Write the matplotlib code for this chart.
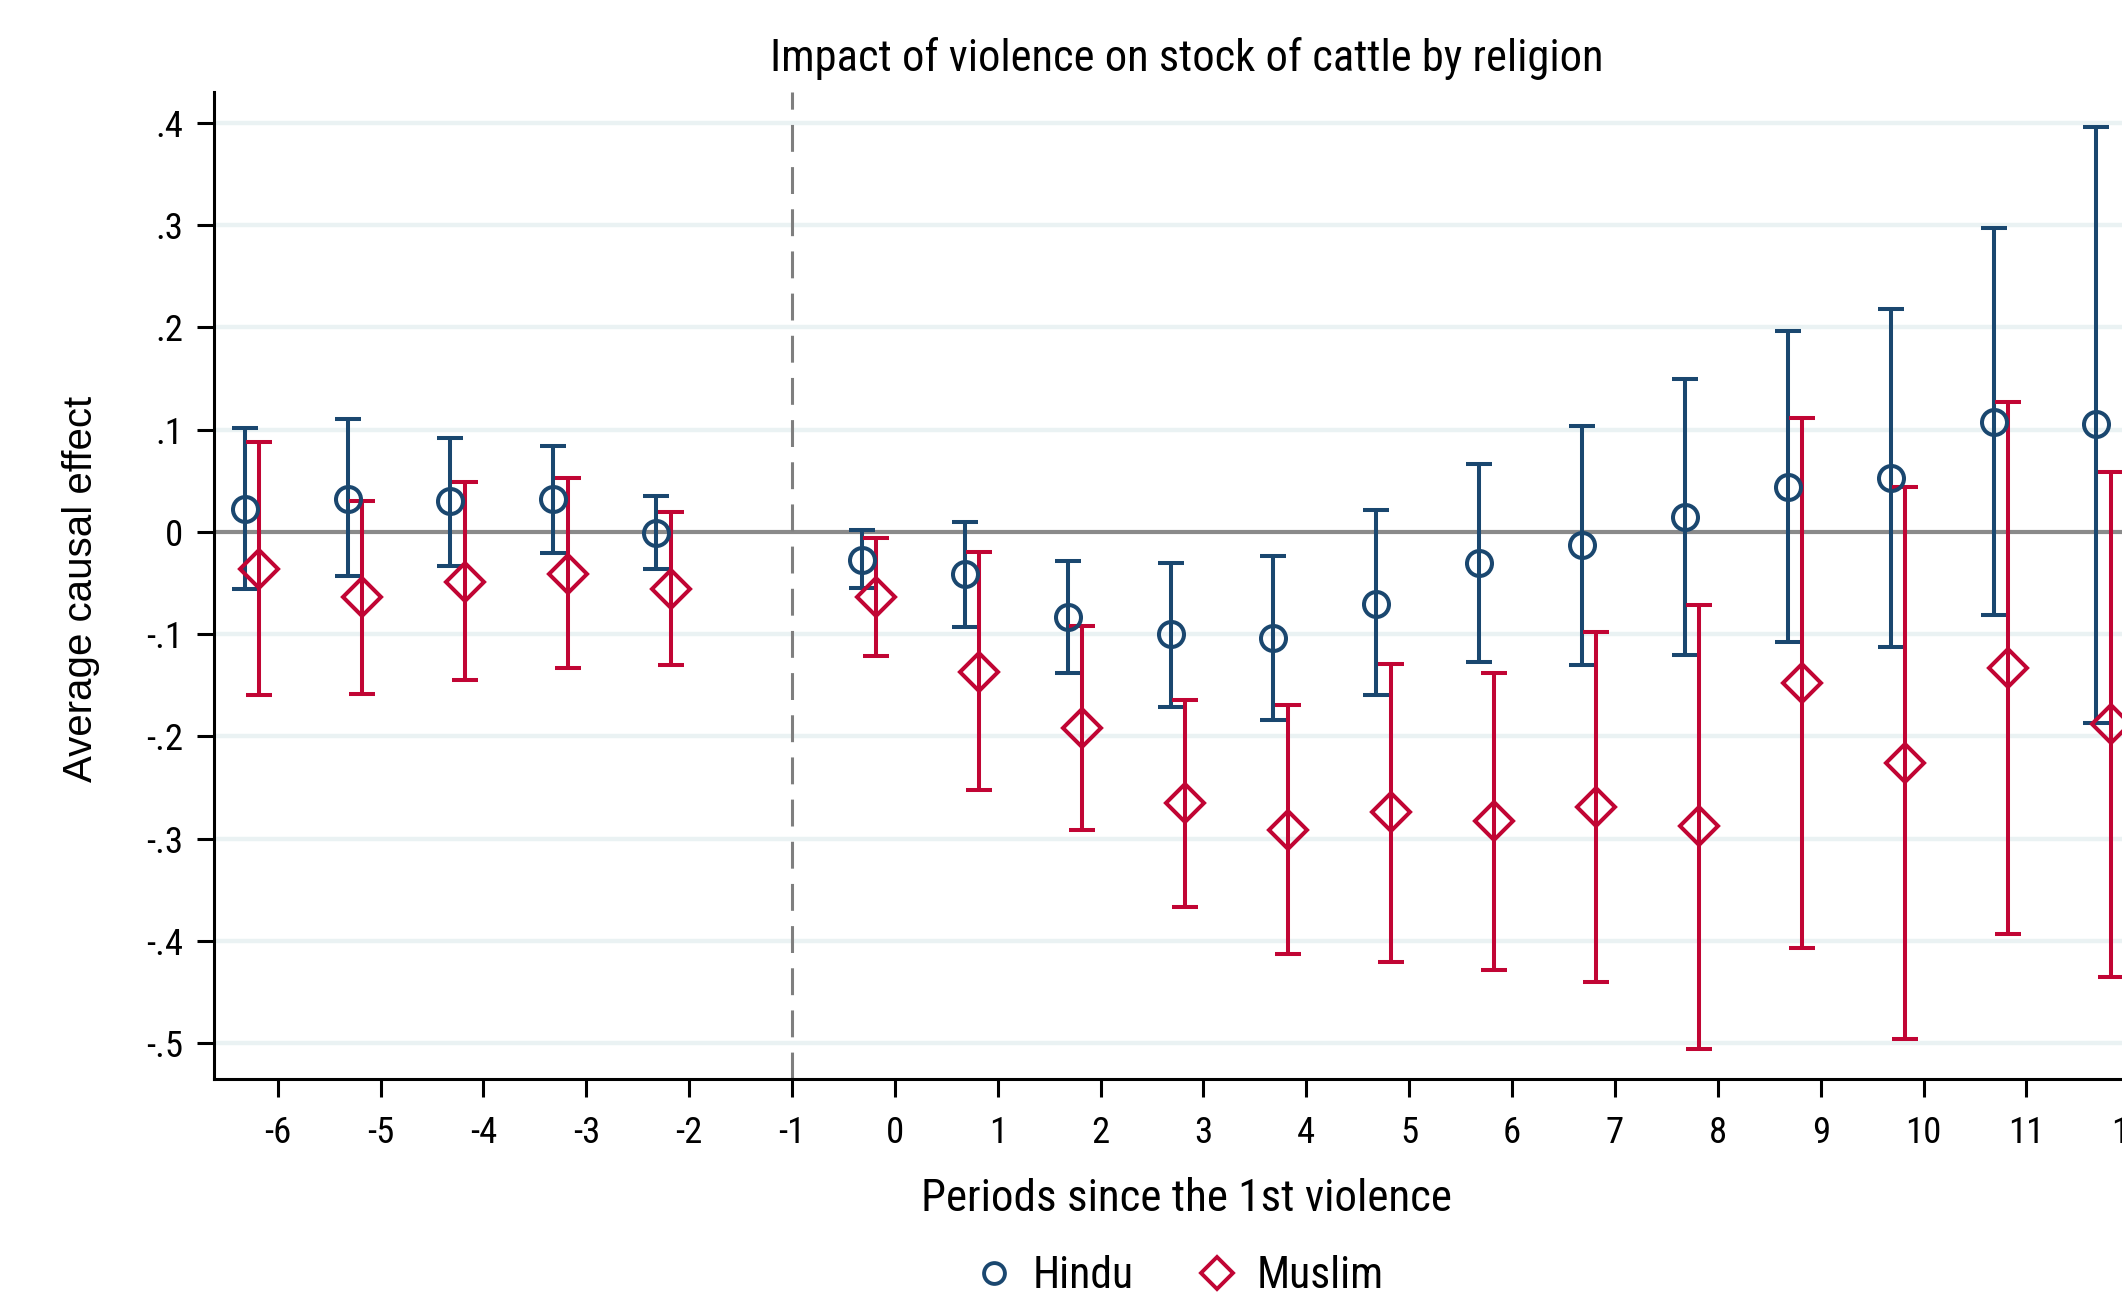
"""
Event-study plot: impact of violence on stock of cattle by religion (Stata look).
"""

import numpy as np
import matplotlib
matplotlib.use('Agg')
import matplotlib.pyplot as plt
from matplotlib import font_manager as fm
from matplotlib.lines import Line2D

# ── Data ────────────────────────────────────────────────────
PERIODS = [-6, -5, -4, -3, -2, 0, 1, 2, 3, 4, 5, 6, 7, 8, 9, 10, 11, 12]

HINDU_EST = [0.022, 0.032, 0.030, 0.032, -0.001, -0.027, -0.041, -0.083, -0.100, -0.104,
             -0.070, -0.030, -0.013, 0.015, 0.044, 0.053, 0.107, 0.105]
HINDU_LO = [-0.056, -0.043, -0.033, -0.021, -0.036, -0.055, -0.093, -0.138, -0.171, -0.184,
            -0.159, -0.127, -0.130, -0.120, -0.108, -0.113, -0.081, -0.187]
HINDU_HI = [0.102, 0.110, 0.092, 0.084, 0.035, 0.002, 0.010, -0.028, -0.030, -0.024,
            0.021, 0.066, 0.104, 0.149, 0.196, 0.218, 0.297, 0.396]

MUSLIM_EST = [-0.036, -0.064, -0.049, -0.041, -0.056, -0.064, -0.137, -0.192, -0.265, -0.291,
              -0.274, -0.283, -0.269, -0.288, -0.148, -0.226, -0.133, -0.188]
MUSLIM_LO = [-0.159, -0.158, -0.145, -0.133, -0.130, -0.121, -0.252, -0.291, -0.367, -0.413,
             -0.420, -0.428, -0.440, -0.506, -0.407, -0.496, -0.393, -0.435]
MUSLIM_HI = [0.088, 0.030, 0.049, 0.053, 0.019, -0.006, -0.020, -0.092, -0.164, -0.169,
             -0.129, -0.138, -0.098, -0.071, 0.111, 0.044, 0.127, 0.059]

X_TICKS = list(range(-6, 13))
Y_TICKS = [-0.5, -0.4, -0.3, -0.2, -0.1, 0.0, 0.1, 0.2, 0.3, 0.4]
Y_TICKLABELS = ['-.5', '-.4', '-.3', '-.2', '-.1', '0', '.1', '.2', '.3', '.4']

NAVY = '#1a476f'
CRANBERRY = '#c10534'


def pick_narrow():
    """Find a condensed sans font if one is installed; else Arial-like Liberation Sans."""
    fonts = fm.fontManager.ttflist
    wanted = ['Liberation Sans Narrow', 'Arial Narrow', 'Roboto Condensed',
              'Open Sans Condensed', 'Noto Sans Condensed']
    for w in wanted:
        for f in fonts:
            if f.name == w and f.weight in (400, 'normal', 'regular') and f.style == 'normal':
                return fm.FontProperties(fname=f.fname), True
    for f in fonts:
        if ('Condensed' in f.name or 'Narrow' in f.name or
                str(f.stretch) in ('condensed', 'semi-condensed', '87.5', '75')) \
                and f.style == 'normal' and f.weight in (400, 'normal', 'regular'):
            return fm.FontProperties(fname=f.fname), True
    return fm.FontProperties(family=['Liberation Sans', 'DejaVu Sans']), False


def main():
    narrow, found = pick_narrow()
    k = 1.0 if found else 0.86   # shrink plain Arial so widths stay close

    fig = plt.figure(figsize=(21.22, 12.93), dpi=100, facecolor='white')
    # axes runs past the right edge, as in the cropped reference
    ax = fig.add_axes([0.1008, 0.1654, 0.9327, 0.7634])

    p = np.array(PERIODS, dtype=float)

    # grid + reference lines
    for y in Y_TICKS:
        if y != 0:
            ax.axhline(y, color='#eaf2f3', lw=3.2, zorder=0)
    ax.axhline(0, color='#8a8a8a', lw=3.0, zorder=1)
    ax.axvline(-1, color='#7f7f7f', lw=2.2, ls=(0, (8.8, 5)), zorder=1)

    # Hindu
    h = np.array(HINDU_EST)
    ax.errorbar(p - 0.32, h, yerr=[h - np.array(HINDU_LO), np.array(HINDU_HI) - h],
                fmt='none', ecolor=NAVY, elinewidth=2.9, capsize=9.5, capthick=2.9, zorder=3)
    ax.plot(p - 0.32, h, 'o', ms=18, mfc='none', mec=NAVY, mew=2.9, zorder=4)

    # Muslim
    m = np.array(MUSLIM_EST)
    ax.errorbar(p - 0.18, m, yerr=[m - np.array(MUSLIM_LO), np.array(MUSLIM_HI) - m],
                fmt='none', ecolor=CRANBERRY, elinewidth=2.9, capsize=9.5, capthick=2.9, zorder=3)
    ax.plot(p - 0.18, m, 'D', ms=19, mfc='none', mec=CRANBERRY, mew=2.9, zorder=4)

    ax.set_xlim(-6.62, 12.62)
    ax.set_ylim(-0.535, 0.43)
    ax.set_xticks(X_TICKS)
    ax.set_xticklabels([str(t) for t in X_TICKS])
    ax.set_yticks(Y_TICKS)
    ax.set_yticklabels(Y_TICKLABELS)

    for s in ('top', 'right'):
        ax.spines[s].set_visible(False)
    for s in ('left', 'bottom'):
        ax.spines[s].set_linewidth(2.2)
        ax.spines[s].set_color('black')
    ax.tick_params(axis='x', length=13, width=2.2, pad=13)
    ax.tick_params(axis='y', length=12, width=2.2, pad=10)
    for lb in ax.get_xticklabels() + ax.get_yticklabels():
        lb.set_fontproperties(narrow)
        lb.set_fontsize(26.5 * k)

    # titles
    fig.text(0.5593, 0.955, 'Impact of violence on stock of cattle by religion',
             ha='center', va='center', fontproperties=narrow, fontsize=32 * k)
    fig.text(0.5593, 0.073, 'Periods since the 1st violence',
             ha='center', va='center', fontproperties=narrow, fontsize=32.5 * k)
    fig.text(0.038, 0.5445, 'Average causal effect', rotation=90,
             ha='center', va='center', fontsize=29, family=['Liberation Sans', 'DejaVu Sans'])

    handles = [Line2D([], [], ls='none', marker='o', ms=15, mfc='none', mec=NAVY, mew=2.8),
               Line2D([], [], ls='none', marker='D', ms=16, mfc='none', mec=CRANBERRY, mew=2.8)]
    prop = narrow.copy()
    prop.set_size(31.5 * k)
    fig.legend(handles, ['Hindu', 'Muslim'], loc='center', bbox_to_anchor=(0.555, 0.013),
               ncol=2, frameon=False, prop=prop,
               handletextpad=0.4, columnspacing=1.4, handlelength=1.0)

    fig.savefig('out.png', dpi=100, facecolor='white')
    plt.close(fig)


if __name__ == "__main__":
    main()
